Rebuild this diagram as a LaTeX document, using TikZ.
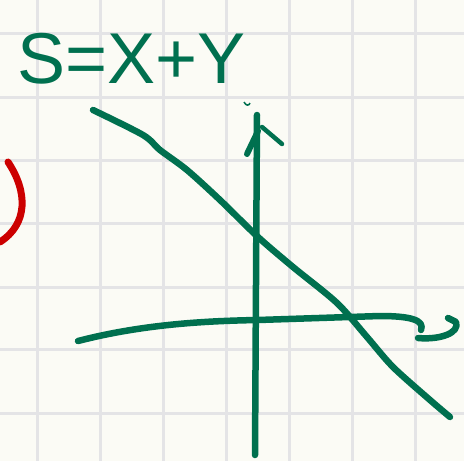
\documentclass[tikz,border=0pt]{standalone}
\usepackage{fontspec}
\setmainfont{Liberation Sans}
\definecolor{ink}{HTML}{00704F}
\definecolor{redink}{HTML}{CC0000}
\definecolor{paper}{HTML}{FBFBF5}
\definecolor{gridline}{HTML}{E4E4E6}
\begin{document}
\begin{tikzpicture}[x=1pt,y=-1pt,
  pen/.style={draw=ink,line width=6.5pt,line cap=round,line join=round},
  gridrule/.style={draw=gridline,line width=3pt}]
\fill[paper] (0,0) rectangle (464,461);
\useasboundingbox (0,0) rectangle (464,461);
% squared paper
\foreach \gx in {37,100,163,226,289,352,415}
  \draw[gridrule] (\gx,0) -- (\gx,461);
\foreach \gy in {33,97,160,223,287,349,413}
  \draw[gridrule] (0,\gy) -- (464,\gy);
% title
\node[anchor=base west,inner sep=0pt,text=ink,font=\fontsize{72}{72}\selectfont] (title) at (17,83) {S=X+Y};
% red bracket at the margin
\draw[draw=redink,line width=7pt,line cap=round] (8,162) .. controls (28,192) and (28,224) .. (0,242);
% y axis with arrow
\draw[pen] (255,455) -- (257,115);
\draw[pen,line width=6pt] (247,154) -- (258,131);
\draw[pen,line width=4.5pt] (262,127) -- (282,144);
\draw[ink,line width=1.5pt] (244,102) .. controls (246,106) and (249,106) .. (250,103);
% x axis with curled arrow
\draw[pen] (78,341) .. controls (140,325) and (200,321) .. (258,320)
  -- (380,316) .. controls (410,316) and (425,320) .. (421,330);
\draw[pen] (418,338) .. controls (440,340) and (460,333) .. (456,322) -- (448,318);
% the line s = x + y
\draw[pen] plot[smooth,tension=0.5] coordinates {(93,110) (143,135) (160,150) (187,170) (220,200)
  (258,237) (293,267) (337,303) (367,337) (393,367) (430,400) (450,417)};
\end{tikzpicture}
\end{document}
